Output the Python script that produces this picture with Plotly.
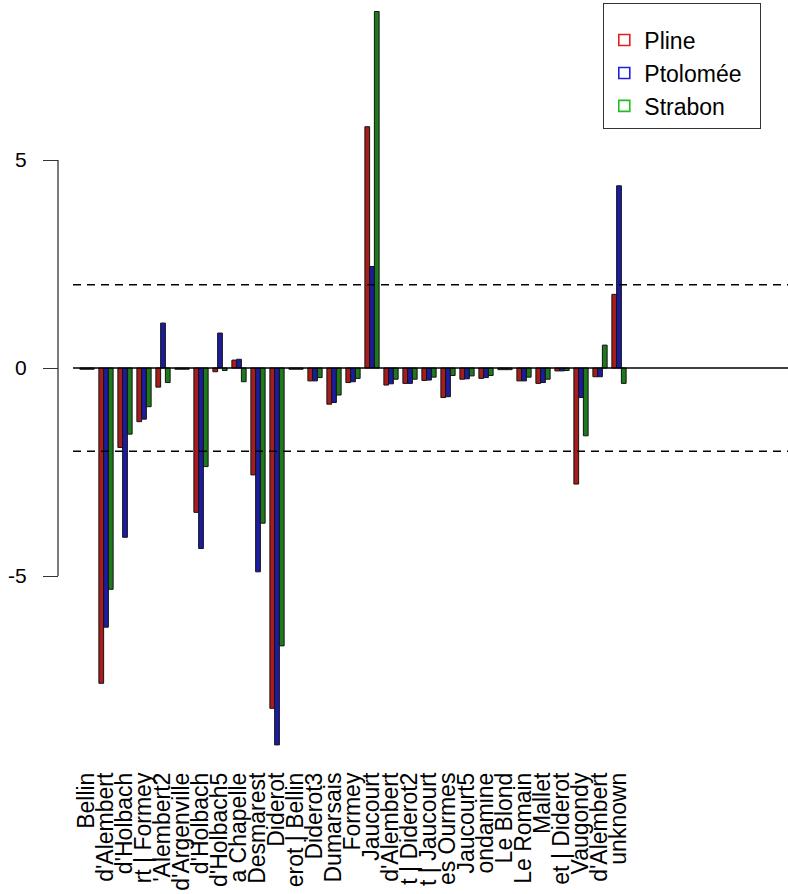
import plotly.graph_objects as go

categories = ["Bellin", "d'Alembert", "d'Holbach", "rt | Formey", "'Alembert2",
              "d'Argenville", "d'Holbach", "d'Holbach5", "a Chapelle", "Desmarest",
              "Diderot", "erot | Bellin", "Diderot3", "Dumarsais", "Formey",
              "Jaucourt", "d'Alembert", "t | Diderot2", "t | Jaucourt", "es Ourmes",
              "Jaucourt5", "ondamine", "Le Blond", "Le Romain", "Mallet",
              "et | Diderot", "Vaugondy", "d'Alembert", "unknown"]

pline = [-0.03, -7.58, -1.91, -1.29, -0.46, -0.03, -3.47, -0.09, 0.19, -2.57,
         -8.18, -0.03, -0.31, -0.87, -0.35, 5.80, -0.41, -0.37, -0.30, -0.71,
         -0.27, -0.25, -0.04, -0.31, -0.37, -0.07, -2.79, -0.21, 1.77]
ptolomee = [-0.03, -6.23, -4.07, -1.23, 1.08, -0.03, -4.34, 0.84, 0.21, -4.90,
            -9.06, -0.03, -0.31, -0.83, -0.33, 2.44, -0.38, -0.37, -0.29, -0.69,
            -0.26, -0.23, -0.04, -0.31, -0.35, -0.07, -0.71, -0.21, 4.38]
strabon = [-0.03, -5.32, -1.59, -0.93, -0.35, -0.03, -2.37, -0.06, -0.33, -3.73,
           -6.68, -0.03, -0.23, -0.65, -0.25, 8.57, -0.27, -0.27, -0.22, -0.18,
           -0.19, -0.18, -0.04, -0.22, -0.27, -0.06, -1.63, 0.55, -0.37]

series_names = ["Pline", "Ptolomée", "Strabon"]
bar_fills = ["#a81c1c", "#1c1ca0", "#1c7a1c"]
legend_colors = ["#e02020", "#2020e0", "#20c020"]
threshold = 2
y_ticks = [-5, 0, 5]

FONT = "Liberation Sans, Arial, Helvetica, sans-serif"
x = list(range(len(categories)))

fig = go.Figure()
for name, vals, col in zip(series_names, [pline, ptolomee, strabon], bar_fills):
    fig.add_trace(go.Bar(x=x, y=vals, name=name, showlegend=False,
                         marker=dict(color=col, line=dict(color="#141414", width=1))))
for name, col in zip(series_names, legend_colors):
    fig.add_trace(go.Scatter(x=[None], y=[None], mode="markers", name=name + "  ",
                             marker=dict(symbol="square-open", size=11,
                                         color=col, line=dict(width=1.6, color=col))))

x0 = (73 - 58) / 730
fig.add_shape(type="line", xref="paper", yref="y", x0=x0, x1=1, y0=0, y1=0,
              line=dict(color="black", width=1.5))
for v in (threshold, -threshold):
    fig.add_shape(type="line", xref="paper", yref="y", x0=x0, x1=1, y0=v, y1=v,
                  line=dict(color="black", width=1.5, dash="8px,6px"))
fig.add_shape(type="line", xref="paper", yref="y", x0=0, x1=0,
              y0=min(y_ticks), y1=max(y_ticks), line=dict(color="#333", width=1.3))

fig.update_layout(
    width=788, height=894,
    margin=dict(l=58, r=0, t=0, b=134),
    plot_bgcolor="white", paper_bgcolor="white",
    barmode="group", bargap=0.25, bargroupgap=0,
    font=dict(family=FONT, color="black"),
    xaxis=dict(domain=[x0, 1], range=[-14 / 19, -14 / 19 + 715 / 19],
               tickmode="array", tickvals=x, ticktext=categories,
               tickangle=-90, tickfont=dict(size=23), ticks="",
               showgrid=False, zeroline=False, showline=False,
               ticklabelstandoff=7),
    yaxis=dict(anchor="free", position=0, range=[(368 - 760) / 41.6, 368 / 41.6],
               tickmode="array", tickvals=y_ticks, ticktext=[str(t) for t in y_ticks],
               ticks="outside", ticklen=15, tickcolor="#333", tickwidth=1.3,
               tickfont=dict(size=21), showgrid=False, zeroline=False, showline=False,
               ticklabelstandoff=12),
    legend=dict(x=(603 - 58) / 730, y=1 - 3 / 760, xanchor="left", yanchor="top",
                bordercolor="#333", borderwidth=1.3, bgcolor="white",
                font=dict(size=23), itemwidth=30,
                title=dict(text=" ", font=dict(size=11))),
)

fig.write_html("out.html")
